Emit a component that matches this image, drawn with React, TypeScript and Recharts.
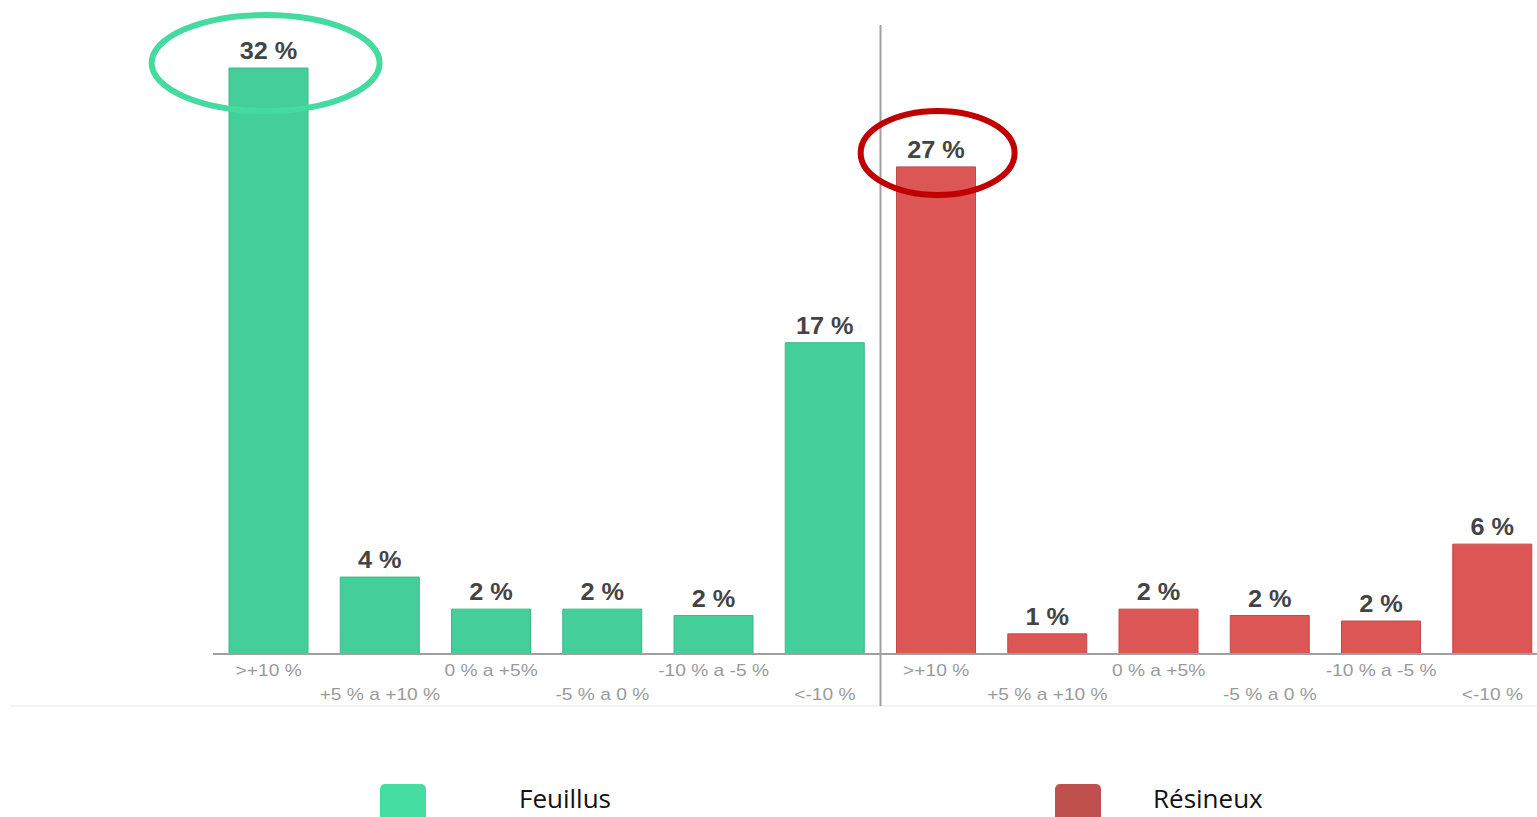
import { BarChart, Bar, XAxis, YAxis, ReferenceLine, ReferenceDot, LabelList } from 'recharts';

const categories = ['>+10 %', '+5 % a +10 %', '0 % a +5%', '-5 % a 0 %', '-10 % a -5 %', '<-10 %'];
const feuillusValues = [32, 4.2, 2.45, 2.45, 2.1, 17];
const resineuxValues = [26.6, 1.1, 2.45, 2.1, 1.8, 6];
const feuillusLabels = ['32 %', '4 %', '2 %', '2 %', '2 %', '17 %'];
const resineuxLabels = ['27 %', '1 %', '2 %', '2 %', '2 %', '6 %'];

const tickLabels = [...categories, ...categories];
const tickPositions = tickLabels.map((_, i) => i + 0.5);

const data = tickLabels.map((name, i) => ({
  pos: i + 0.5,
  name,
  feuillus: i < 6 ? feuillusValues[i] : null,
  resineux: i >= 6 ? resineuxValues[i - 6] : null,
  feuillusLabel: i < 6 ? feuillusLabels[i] : null,
  resineuxLabel: i >= 6 ? resineuxLabels[i - 6] : null,
}));

const GREEN = '#44cf9a';
const RED = '#dc5656';

function BarValueLabel(props: any) {
  const { x, y, width, value } = props;
  if (value == null || value === '') return null;
  const cx = Number(x) + Number(width) / 2;
  return (
    <text
      transform={`translate(${cx},${Number(y) - 9}) scale(1.1,1)`}
      textAnchor="middle"
      fontFamily="'Liberation Sans', Arial, sans-serif"
      fontSize={23}
      fontWeight={700}
      fill="#444"
    >
      {value}
    </text>
  );
}

function CategoryTick(props: any) {
  const { x, y, payload } = props;
  const i = Math.floor(payload.value);
  const dy = i % 2 ? 46 : 22;
  return (
    <text
      transform={`translate(${x},${y + dy}) scale(1.2,1)`}
      textAnchor="middle"
      fontFamily="'Liberation Sans', Arial, sans-serif"
      fontSize={16}
      fill="#9a9a9a"
    >
      {tickLabels[i]}
    </text>
  );
}

const legendText = {
  position: 'absolute' as const,
  top: 787,
  fontFamily: "'Open Sans', sans-serif",
  fontSize: 26,
  lineHeight: '22px',
  color: '#111',
};

export default function App() {
  return (
    <div style={{ position: 'absolute', left: 0, top: 0, width: 1537, height: 817, overflow: 'hidden', background: '#fff' }}>
      <BarChart width={1548} height={817} data={data} margin={{ top: 68, right: 0, bottom: 103, left: 213 }}>
        <XAxis
          type="number"
          dataKey="pos"
          domain={[0, 12]}
          ticks={tickPositions}
          tick={<CategoryTick />}
          tickLine={false}
          tickSize={0}
          tickMargin={0}
          height={60}
          axisLine={{ stroke: '#a0a0a0', strokeWidth: 2 }}
          interval={0}
        />
        <YAxis hide domain={[0, 32]} />
        <ReferenceLine
          segment={[{ x: -1.82, y: -2.84 }, { x: 12, y: -2.84 }]}
          stroke="#f3f3f3"
          strokeWidth={2}
          ifOverflow="visible"
        />
        <Bar dataKey="feuillus" stackId="s" fill={GREEN} stroke="#3bb888" strokeWidth={1} barSize={79} isAnimationActive={false}>
          <LabelList dataKey="feuillusLabel" content={<BarValueLabel />} />
        </Bar>
        <Bar dataKey="resineux" stackId="s" fill={RED} stroke="#c44a4a" strokeWidth={1} barSize={79} isAnimationActive={false}>
          <LabelList dataKey="resineuxLabel" content={<BarValueLabel />} />
        </Bar>
        <ReferenceLine
          segment={[{ x: 6, y: -2.84 }, { x: 6, y: 34.35 }]}
          stroke="#a0a0a0"
          strokeWidth={2}
          ifOverflow="visible"
        />
        <ReferenceDot
          x={0.5}
          y={feuillusValues[0]}
          r={1}
          ifOverflow="visible"
          shape={(p: any) => (
            <ellipse cx={p.cx - 3} cy={p.cy - 5} rx={114} ry={48} fill="none" stroke="#45dba0" strokeWidth={6} />
          )}
        />
        <ReferenceDot
          x={6.5}
          y={resineuxValues[0]}
          r={1}
          ifOverflow="visible"
          shape={(p: any) => (
            <ellipse cx={p.cx + 1.5} cy={p.cy - 14} rx={77} ry={42} fill="none" stroke="#c00000" strokeWidth={6} />
          )}
        />
      </BarChart>
      <div style={{ position: 'absolute', left: 380, top: 784, width: 46, height: 40, borderRadius: 5, background: '#46dda2' }} />
      <div style={{ ...legendText, left: 519 }}>Feuillus</div>
      <div style={{ position: 'absolute', left: 1055, top: 784, width: 46, height: 40, borderRadius: 5, background: '#c0504d' }} />
      <div style={{ ...legendText, left: 1153 }}>Résineux</div>
    </div>
  );
}
